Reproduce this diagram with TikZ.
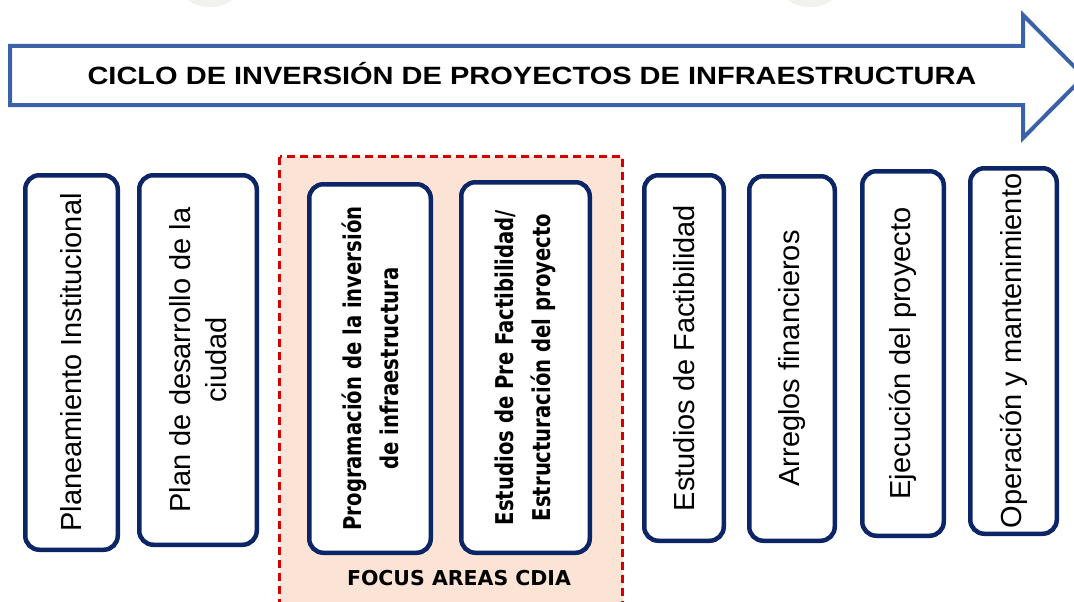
\documentclass[tikz,border=0pt]{standalone}
\usepackage{fontspec}
\setmainfont{Liberation Sans}
\newfontfamily\tahomalike[FakeStretch=0.89]{DejaVu Sans Condensed}
\newfontfamily\verdanalike{DejaVu Sans}
\definecolor{navy}{HTML}{0B2566}
\definecolor{arrowblue}{HTML}{3B62A8}
\definecolor{focusred}{HTML}{D40000}
\definecolor{peach}{HTML}{FBE4D6}
\definecolor{wmark}{HTML}{F1F1EE}
\begin{document}
\begin{tikzpicture}[x=1pt,y=-1pt,
  stagebox/.style={draw=navy, line width=4.5pt, fill=white, rounded corners=14pt,
    rotate=90, inner sep=0pt, align=center, font=\fontsize{29}{36}\selectfont},
  focusbox/.style={stagebox, font=\tahomalike\fontsize{24.5}{37}\selectfont\bfseries},
  focusframe/.style={draw=focusred, fill=peach, line width=3.5pt, dash pattern=on 8pt off 5pt},
  cyclearrow/.style={draw=arrowblue, fill=white, line width=4pt, line join=miter},
  titletext/.style={font=\fontsize{25}{30}\selectfont\bfseries, inner sep=0pt, anchor=base},
  focuslabel/.style={font=\verdanalike\fontsize{20.5}{26}\selectfont\bfseries, inner sep=0pt}]
\useasboundingbox (0,0) rectangle (1074,602);
\clip (0,0) rectangle (1074,602);
\fill[white] (0,0) rectangle (1074,602);
% faint watermark remnants
\fill[wmark] (210,-22) ellipse (34 and 29);
\fill[wmark] (810,-22) ellipse (34 and 29);
% cycle arrow
\draw[cyclearrow] (10,46) -- (1023,46) -- (1023,15) -- (1084,76.5) -- (1023,138) -- (1023,105) -- (10,105) -- cycle;
\node[titletext] (title) at (532,84.5) {\scalebox{1.16}[1]{CICLO DE INVERSIÓN DE PROYECTOS DE INFRAESTRUCTURA}};
% focus area
\draw[focusframe] (279.5,156.5) rectangle (622.5,640);
\node[focuslabel] (focus) at (459,578) {FOCUS AREAS CDIA};
% stages
\node[stagebox, minimum width=374.5pt, minimum height=92.5pt] (s1) at (71.5,362.5) {Planeamiento Institucional};
\node[stagebox, minimum width=369.5pt, minimum height=117.5pt] (s2) at (198,360) {Plan de desarrollo de la\\ciudad};
\node[focusbox, minimum width=368.5pt, minimum height=121.5pt] (s3) at (370,368.5) {Programación de la inversión\\de infraestructura};
\node[focusbox, minimum width=370.5pt, minimum height=128.5pt] (s4) at (525.5,367.5) {Estudios de Pre Factibilidad/\\Estructuración del proyecto};
\node[stagebox, minimum width=365.5pt, minimum height=79.5pt] (s5) at (684,358) {Estudios de Factibilidad};
\node[stagebox, minimum width=364.5pt, minimum height=85.5pt] (s6) at (792,358.5) {Arreglos financieros};
\node[stagebox, minimum width=364.5pt, minimum height=81.5pt] (s7) at (903,353.5) {Ejecución del proyecto};
\node[stagebox, minimum width=365.5pt, minimum height=86.5pt] (s8) at (1013.5,351) {Operación y mantenimiento};
\end{tikzpicture}
\end{document}
